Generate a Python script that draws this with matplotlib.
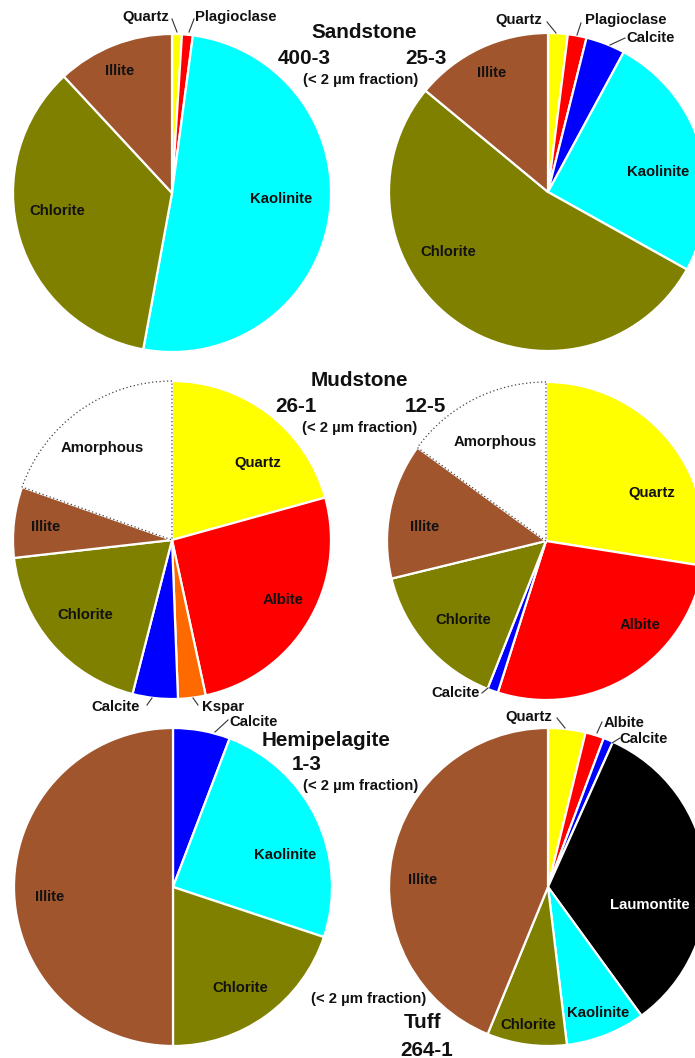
import matplotlib
matplotlib.use("Agg")
import matplotlib.pyplot as plt

# ---- mineral composition (%), listed clockwise from 12 o'clock ----
minerals_400_3 = ["Quartz", "Plagioclase", "Kaolinite", "Chlorite", "Illite"]
values_400_3 = [1.0, 1.1, 50.8, 35.2, 11.9]

minerals_25_3 = ["Quartz", "Plagioclase", "Calcite", "Kaolinite", "Chlorite", "Illite"]
values_25_3 = [2.0, 1.9, 4.0, 25.2, 52.9, 14.0]

minerals_26_1 = ["Quartz", "Albite", "Kspar", "Calcite", "Chlorite", "Illite", "Amorphous"]
values_26_1 = [20.7, 25.9, 2.8, 4.6, 19.2, 7.2, 19.6]

minerals_12_5 = ["Quartz", "Albite", "Calcite", "Chlorite", "Illite", "Amorphous"]
values_12_5 = [27.5, 27.4, 1.1, 15.2, 13.8, 15.0]

minerals_1_3 = ["Calcite", "Kaolinite", "Chlorite", "Illite"]
values_1_3 = [5.8, 24.3, 19.9, 50.0]

minerals_264_1 = ["Quartz", "Albite", "Calcite", "Laumontite", "Kaolinite", "Chlorite", "Illite"]
values_264_1 = [3.8, 1.9, 1.0, 33.3, 8.1, 8.1, 43.8]

# ---- styling ----
mineral_colors = {
    "Quartz": "#FFFF00",
    "Plagioclase": "#FF0000",
    "Albite": "#FF0000",
    "Calcite": "#0000FF",
    "Kaolinite": "#00FFFF",
    "Chlorite": "#7F7F00",
    "Illite": "#A0552D",
    "Kspar": "#FF6A00",
    "Amorphous": "#FFFFFF",
    "Laumontite": "#000000",
}

W, H, DPI = 695, 1058, 100
R = 159  # pie radius in pixels

plt.rcParams["font.family"] = ["Liberation Sans", "DejaVu Sans"]
fig = plt.figure(figsize=(W / DPI, H / DPI), dpi=DPI)
fig.patch.set_facecolor("white")

LABEL_FS = 10.7
TITLE_FS = 14.9
SUB_FS = 10.7
INK = "#111111"


def fig_xy(px, py):
    return px / W, 1 - py / H


def draw_pie(cx, cy, names, values, inner, outer):
    """inner: {name: (px, py)} label inside slice;
    outer: {name: (text_xy, line_start, line_end)} label with leader line."""
    ax = fig.add_axes([(cx - R) / W, 1 - (cy + R) / H, 2 * R / W, 2 * R / H])
    wedges, _ = ax.pie(
        values,
        colors=[mineral_colors[n] for n in names],
        startangle=90,
        counterclock=False,
        radius=1.0,
        wedgeprops=dict(edgecolor="white", linewidth=1.6),
    )
    for w, n in zip(wedges, names):
        if n == "Amorphous":
            w.set_edgecolor("#444444")
            w.set_linestyle((0, (1, 2)))
            w.set_linewidth(0.9)
            w.set_zorder(3)
    ax.set_xlim(-1, 1)
    ax.set_ylim(-1, 1)
    ax.set_aspect("equal")
    ax.axis("off")

    def d(px, py):
        return (px - cx) / R, (cy - py) / R

    for n, (px, py) in inner.items():
        col = "white" if n == "Laumontite" else INK
        x, y = d(px, py)
        ax.text(x, y, n, ha="center", va="center", fontsize=LABEL_FS,
                fontweight="bold", color=col, clip_on=False, zorder=5)
    for n, (txy, p0, p1) in outer.items():
        x, y = d(*txy)
        ax.text(x, y, n, ha="center", va="center", fontsize=LABEL_FS,
                fontweight="bold", color=INK, clip_on=False, zorder=5)
        (x0, y0), (x1, y1) = d(*p0), d(*p1)
        ax.plot([x0, x1], [y0, y1], color="#333333", lw=0.8,
                clip_on=False, zorder=5)
    return ax


# Sandstone 400-3
draw_pie(172, 193, minerals_400_3, values_400_3,
         inner={"Illite": (120, 71), "Kaolinite": (281, 199), "Chlorite": (57, 211)},
         outer={"Quartz": ((146, 17), (172, 19), (177, 32)),
                "Plagioclase": ((236, 17), (194, 19), (189, 32))})

# Sandstone 25-3
draw_pie(548, 192, minerals_25_3, values_25_3,
         inner={"Illite": (492, 73), "Kaolinite": (658, 172), "Chlorite": (448, 252)},
         outer={"Quartz": ((519, 20), (547, 22), (556, 33)),
                "Plagioclase": ((626, 20), (581, 23), (577, 35)),
                "Calcite": ((651, 38), (625, 38), (610, 45))})

# Mudstone 26-1
draw_pie(172, 540, minerals_26_1, values_26_1,
         inner={"Amorphous": (102, 448), "Quartz": (258, 463), "Illite": (46, 527),
                "Chlorite": (85, 615), "Albite": (283, 600)},
         outer={"Calcite": ((116, 707), (147, 705), (152, 698)),
                "Kspar": ((223, 707), (198, 705), (193, 698))})

# Mudstone 12-5
draw_pie(546, 541, minerals_12_5, values_12_5,
         inner={"Amorphous": (495, 442), "Quartz": (652, 493), "Illite": (425, 527),
                "Chlorite": (463, 620), "Albite": (640, 625)},
         outer={"Calcite": ((456, 693), (482, 693), (488, 688))})

# Hemipelagite 1-3
draw_pie(173, 887, minerals_1_3, values_1_3,
         inner={"Kaolinite": (285, 855), "Illite": (50, 897), "Chlorite": (240, 988)},
         outer={"Calcite": ((254, 722), (215, 732), (228, 720))})

# Tuff 264-1
draw_pie(548, 887, minerals_264_1, values_264_1,
         inner={"Illite": (423, 880), "Laumontite": (650, 905),
                "Kaolinite": (598, 1013), "Chlorite": (528, 1025)},
         outer={"Quartz": ((529, 717), (557, 718), (565, 728)),
                "Albite": ((624, 723), (602, 722), (597, 733)),
                "Calcite": ((644, 739), (620, 738), (612, 743))})

# ---- group titles ----
def title(px, py, s, fs):
    x, y = fig_xy(px, py)
    fig.text(x, y, s, ha="center", va="center", fontsize=fs,
             fontweight="bold", color=INK, zorder=10)

FRAC = "(< 2 \u00b5m fraction)"

title(364, 32, "Sandstone", TITLE_FS)
title(304, 58, "400-3", TITLE_FS)
title(426, 58, "25-3", TITLE_FS)
title(361, 80, FRAC, SUB_FS)

title(359, 380, "Mudstone", TITLE_FS)
title(296, 407, "26-1", TITLE_FS)
title(425, 407, "12-5", TITLE_FS)
title(360, 428, FRAC, SUB_FS)

title(326, 740, "Hemipelagite", TITLE_FS)
title(307, 765, "1-3", TITLE_FS)
title(361, 786, FRAC, SUB_FS)

title(369, 999, FRAC, SUB_FS)
title(423, 1022, "Tuff", TITLE_FS)
title(427, 1050, "264-1", TITLE_FS)

fig.savefig("out.png", dpi=DPI, facecolor="white")
